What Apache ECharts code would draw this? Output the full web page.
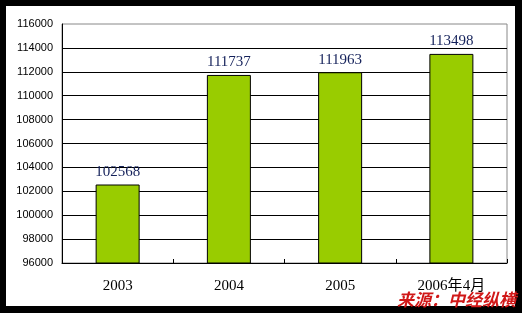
<!DOCTYPE html>
<html>
<head>
<meta charset="utf-8">
<script src="https://cdn.jsdelivr.net/npm/echarts@6/dist/echarts.min.js"></script>
<style>
html,body{margin:0;padding:0;background:#000;}
#c{width:522px;height:313px;}
</style>
</head>
<body>
<div id="c"></div>
<script>
const categories = ['2003', '2004', '2005', '2006年4月'];
const values = [102568, 111737, 111963, 113498];
const yMin = 96000, yMax = 116000, yStep = 2000;
const sourceText = '来源：中经纵横';

const chart = echarts.init(document.getElementById('c'), null, {renderer: 'canvas'});
chart.setOption({
  backgroundColor: '#000',
  animation: false,
  graphic: [
    {type: 'rect', z: -10, shape: {x: 6, y: 6, width: 509, height: 300}, style: {fill: '#fff'}},
    {type: 'text', z: 100, right: 6, top: 291,
      style: {text: sourceText, fill: '#d01818', font: 'italic bold 17px "Noto Sans CJK SC"',
        shadowColor: 'rgba(0,0,0,0.6)', shadowOffsetX: 1, shadowOffsetY: 1, shadowBlur: 1}}
  ],
  grid: {left: 62, right: 15, top: 24, bottom: 50, show: true, borderColor: '#888', borderWidth: 1, backgroundColor: 'transparent'},
  xAxis: {
    type: 'category', data: categories,
    axisLine: {lineStyle: {color: '#000', width: 1}},
    axisTick: {show: true, inside: true, length: 4, lineStyle: {color: '#000'}},
    axisLabel: {color: '#000', fontFamily: '"Liberation Serif", "Noto Sans CJK SC"', fontSize: 15, margin: 16}
  },
  yAxis: {
    type: 'value', min: yMin, max: yMax, interval: yStep,
    axisLine: {show: true, lineStyle: {color: '#000', width: 1}},
    axisTick: {show: false},
    splitLine: {showMaxLine: false, lineStyle: {color: '#000', width: 1}},
    axisLabel: {color: '#000', fontFamily: '"Liberation Sans", Arial', fontSize: 11, margin: 9,
      formatter: function (v) { return String(v); }}
  },
  series: [{
    type: 'bar', data: values, barWidth: 44,
    itemStyle: {color: '#99cc00', borderColor: '#000', borderWidth: 1},
    label: {show: true, position: 'top', distance: 5, color: '#14215a',
      fontFamily: '"Liberation Serif"', fontSize: 15}
  }]
});
</script>
</body>
</html>
